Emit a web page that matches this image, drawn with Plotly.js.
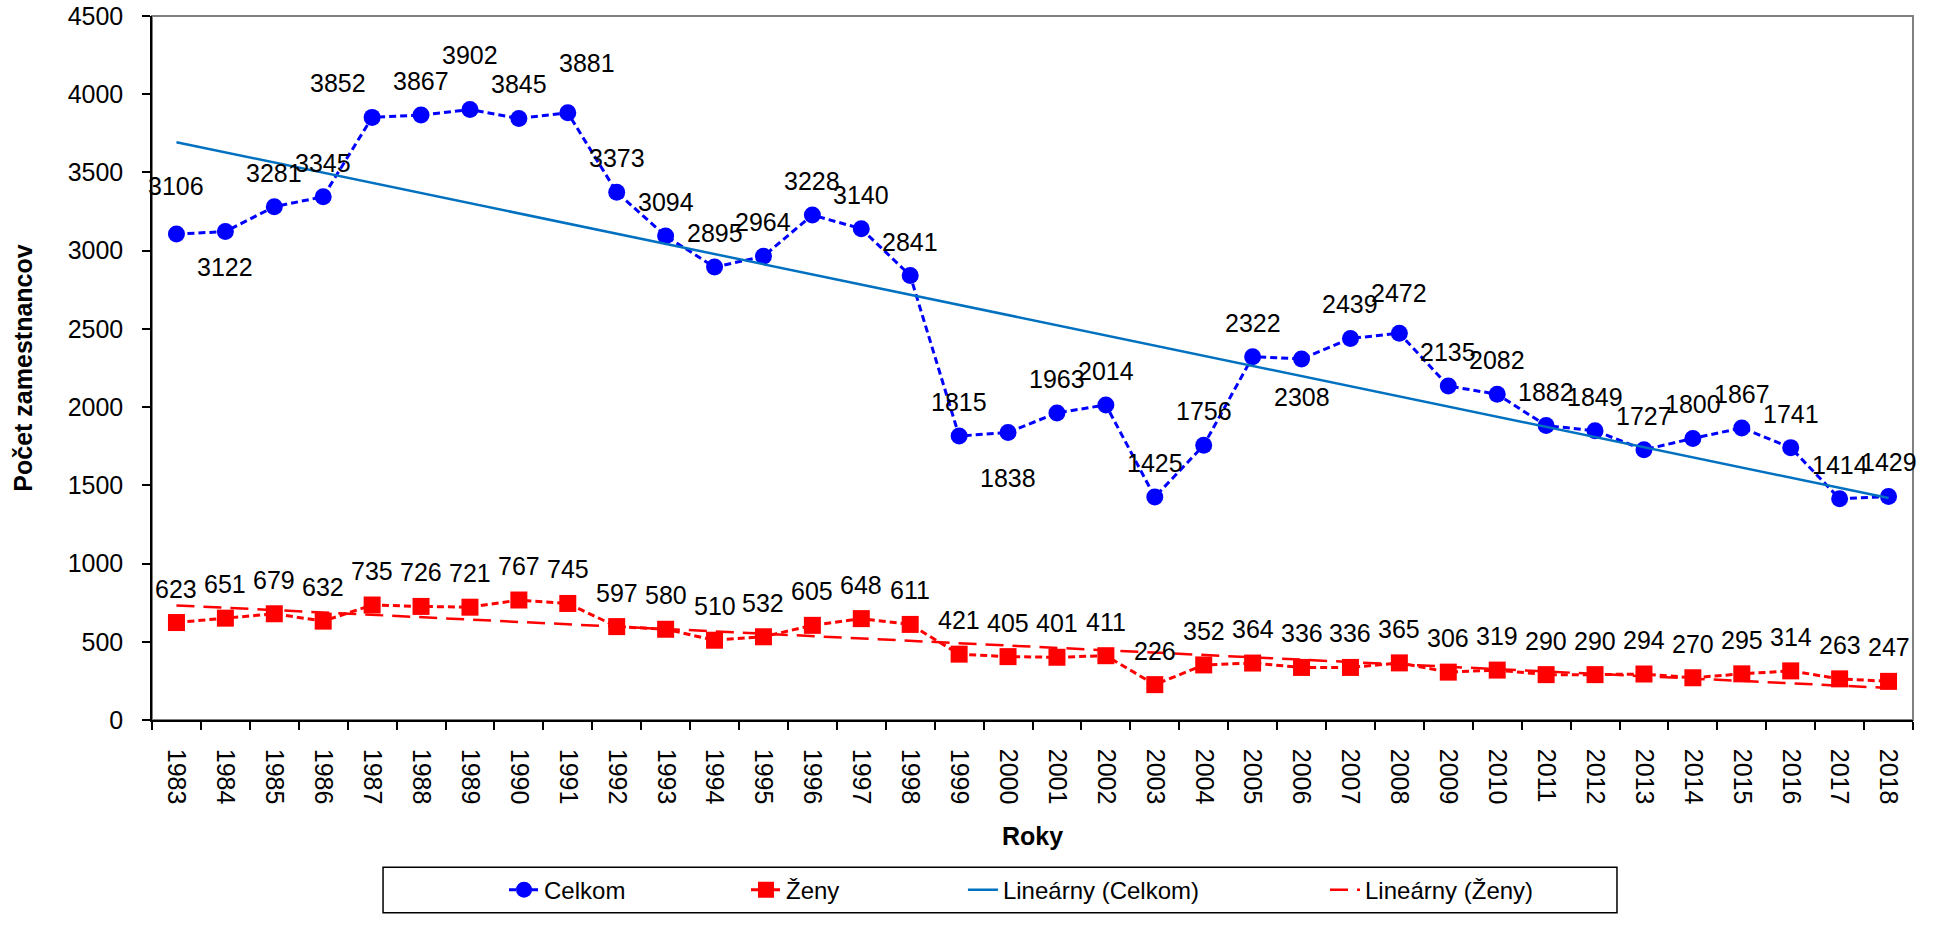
<!DOCTYPE html>
<html>
<head>
<meta charset="utf-8">
<script src="https://cdn.plot.ly/plotly-3.0.1.min.js"></script>
<style>
  html, body { margin: 0; padding: 0; background: #fff; }
  #chart { width: 1938px; height: 925px; }
</style>
</head>
<body>
<div id="chart"></div>
<script>
// Years on the x axis
const years = ['1983', '1984', '1985', '1986', '1987', '1988', '1989', '1990', '1991', '1992',
    '1993', '1994', '1995', '1996', '1997', '1998', '1999', '2000', '2001', '2002',
    '2003', '2004', '2005', '2006', '2007', '2008', '2009', '2010', '2011', '2012',
    '2013', '2014', '2015', '2016', '2017', '2018'];

// Total staff (Celkom)
const celkom = [3106, 3122, 3281, 3345, 3852, 3867, 3902, 3845, 3881, 3373,
    3094, 2895, 2964, 3228, 3140, 2841, 1815, 1838, 1963, 2014,
    1425, 1756, 2322, 2308, 2439, 2472, 2135, 2082, 1882, 1849,
    1727, 1800, 1867, 1741, 1414, 1429];

// Women (Ženy)
const zeny = [623, 651, 679, 632, 735, 726, 721, 767, 745, 597,
    580, 510, 532, 605, 648, 611, 421, 405, 401, 411,
    226, 352, 364, 336, 336, 365, 306, 319, 290, 290,
    294, 270, 295, 314, 263, 247];

// Label offsets in px where they differ from the default (y positive = above the point)
const celkomLabelShiftY = { '1983': 48, '1984': -35, '1989': 55, '1991': 50, '2000': -46, '2006': -38, '2008': 40 };
const celkomLabelShiftX = { '1987': -34, '1991': 19 };
const defaultShift = 34;

const FONT = 'Liberation Sans, Arial, sans-serif';

// Least squares line, same as Excel's linear trendline
function linearTrend(values) {
    const n = values.length;
    let sx = 0, sy = 0, sxy = 0, sxx = 0;
    values.forEach((v, i) => {
        sx += i; sy += v; sxy += i * v; sxx += i * i;
    });
    const slope = (n * sxy - sx * sy) / (n * sxx - sx * sx);
    const intercept = (sy - slope * sx) / n;
    return values.map((v, i) => intercept + slope * i);
}

const traceCelkom = {
    x: years, y: celkom, name: 'Celkom', legend: 'legend',
    type: 'scatter', mode: 'lines+markers',
    line: { color: '#0000FF', width: 3, dash: '7px,4px' },
    marker: { symbol: 'circle', size: 17, color: '#0000FF' }
};

const traceZeny = {
    x: years, y: zeny, name: 'Ženy', legend: 'legend2',
    type: 'scatter', mode: 'lines+markers',
    line: { color: '#FF0000', width: 3, dash: '7px,4px' },
    marker: { symbol: 'square', size: 17, color: '#FF0000' }
};

const trendCelkom = {
    x: years, y: linearTrend(celkom), name: 'Lineárny (Celkom)', legend: 'legend3',
    type: 'scatter', mode: 'lines',
    line: { color: '#0070C0', width: 2.5 }
};

const trendZeny = {
    x: years, y: linearTrend(zeny), name: 'Lineárny (Ženy)', legend: 'legend4',
    type: 'scatter', mode: 'lines',
    line: { color: '#FF0000', width: 2.5, dash: '18px,9px' }
};

// Data labels (category axis: annotation x is the category index)
let annotations = [];
years.forEach((yr, i) => {
    annotations.push({
        x: i, y: celkom[i], xref: 'x', yref: 'y',
        text: String(celkom[i]), showarrow: false,
        yshift: celkomLabelShiftY[yr] !== undefined ? celkomLabelShiftY[yr] : defaultShift,
        xshift: celkomLabelShiftX[yr] || 0,
        font: { family: FONT, size: 25, color: '#000' }
    });
    annotations.push({
        x: i, y: zeny[i], xref: 'x', yref: 'y',
        text: String(zeny[i]), showarrow: false,
        yshift: defaultShift,
        font: { family: FONT, size: 25, color: '#000' }
    });
});

// one legend per entry so the spacing can follow the original
function legendAt(xPaper) {
    return {
        orientation: 'h', x: xPaper, xanchor: 'left', y: -0.2416, yanchor: 'middle',
        bgcolor: 'rgba(0,0,0,0)', borderwidth: 0,
        font: { family: FONT, size: 24, color: '#000' }
    };
}

const layout = {
    width: 1938, height: 925,
    margin: { l: 152, r: 25, t: 16, b: 197 },
    paper_bgcolor: '#fff', plot_bgcolor: '#fff',
    font: { family: FONT, size: 24, color: '#000' },
    showlegend: true,
    legend: legendAt(0.1999),
    legend2: legendAt(0.3373),
    legend3: legendAt(0.4605),
    legend4: legendAt(0.6661),
    xaxis: {
        type: 'category', tickson: 'boundaries', range: [-0.5, years.length - 0.5],
        showgrid: false, zeroline: false,
        showline: true, linecolor: '#000', linewidth: 1.5,
        ticks: 'outside', ticklen: 8, tickcolor: '#000', tickwidth: 1.5,
        tickangle: 90, ticklabelstandoff: 22,
        tickfont: { family: FONT, size: 25, color: '#000' },
        title: { text: '<b>Roky</b>', standoff: 24, font: { family: FONT, size: 25, color: '#000' } }
    },
    yaxis: {
        range: [0, 4500], dtick: 500,
        showgrid: false, zeroline: false,
        showline: true, linecolor: '#000', linewidth: 1.5,
        ticks: 'outside', ticklen: 8, tickcolor: '#000', tickwidth: 1.5,
        ticklabelstandoff: 14,
        tickfont: { family: FONT, size: 25, color: '#000' },
        title: { text: '<b>Počet zamestnancov</b>', standoff: 28, font: { family: FONT, size: 25, color: '#000' } }
    },
    shapes: [
        {   // plot area border (top and right show grey)
            type: 'rect', xref: 'paper', yref: 'paper', x0: 0, x1: 1, y0: 0, y1: 1,
            line: { color: '#808080', width: 2 }, fillcolor: 'rgba(0,0,0,0)', layer: 'below'
        },
        {   // legend frame
            type: 'rect', xref: 'paper', yref: 'paper', x0: 0.1312, x1: 0.8319, y0: -0.2739, y1: -0.2093,
            line: { color: '#000', width: 1.5 }, fillcolor: 'rgba(0,0,0,0)'
        }
    ],
    annotations: annotations
};

Plotly.newPlot('chart', [traceCelkom, traceZeny, trendCelkom, trendZeny], layout, { displayModeBar: false });
</script>
</body>
</html>
